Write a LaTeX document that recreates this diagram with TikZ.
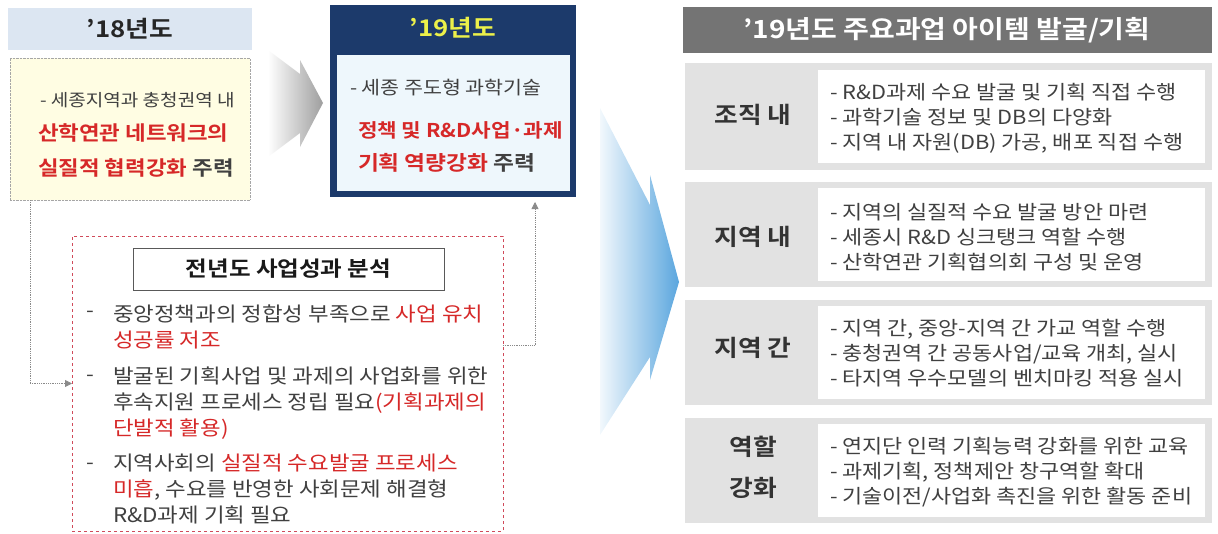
\documentclass[tikz,border=0pt]{standalone}
\usepackage{fontspec}
\setmainfont{Noto Sans CJK KR}[BoldFont={Noto Sans CJK KR Bold},FakeStretch=1.12]
\usetikzlibrary{arrows.meta,calc,fit}
\definecolor{hdrA}{HTML}{DCE6F2}
\definecolor{yelfill}{HTML}{FFFDE3}
\definecolor{navy}{HTML}{1C3A6B}
\definecolor{ytxt}{HTML}{ECF04A}
\definecolor{lblue}{HTML}{EEF7FC}
\definecolor{kred}{HTML}{D62828}
\definecolor{dgray}{HTML}{404040}
\definecolor{rhdr}{HTML}{747474}
\definecolor{rbox}{HTML}{E2E2E2}
\definecolor{dotc}{HTML}{8A8A8A}
\definecolor{rdash}{HTML}{D04A5A}
\definecolor{bluetip}{HTML}{5AA6DE}
\newcommand\setfs[2]{\fontsize{#1}{#2}\selectfont}
\begin{document}
\begin{tikzpicture}[x=1pt,y=-1pt,
  every node/.style={inner sep=0pt,outer sep=0pt},
  rect/.style={fit={#1},inner sep=0pt},
  conn/.style={draw=dotc,densely dotted,line width=0.8pt,-{Triangle[length=7pt,width=7pt]}},
  graytxt/.style={text=dgray,font=\setfs{17}{22}},
  redbig/.style={text=kred,font=\bfseries\setfs{20}{26}},
  bodytxt/.style={text=dgray,font=\setfs{20}{26},align=left,anchor=west},
  rtxt/.style={text=dgray,font=\setfs{19.5}{25},align=left,anchor=west},
  rlabel/.style={text=black!80,font=\bfseries\setfs{23}{26}}]
\useasboundingbox (0,0) rectangle (1218,533);

% ---- '18 ----
\node[rect={(8,8) (252,50)},fill=hdrA] (h18) {};
\node[font=\bfseries\setfs{23}{26},text=black!85] (h18t) at (h18.center) {’18년도};
\node[rect={(10,58) (250,200)},fill=yelfill,draw=black!35,densely dotted] (b18) {};
\node[graytxt,anchor=west] (t18a) at (40,100) {- 세종지역과 충청권역 내};
\node[redbig,anchor=west] (t18b) at (38,133) {산학연관 네트워크의};
\node[redbig,anchor=west] (t18c) at (38,168) {실질적 협력강화 \textcolor{dgray}{주력}};

% ---- gray arrow ----
\shade[left color=white,right color=black!38]
  (268,50) -- (300,74) -- (300,60) -- (323,103) -- (300,147) -- (300,133) -- (268,157) -- cycle;

% ---- '19 ----
\node[rect={(330,5) (576,197)},fill=navy] (b19) {};
\node[rect={(337,55) (570,191)},fill=lblue] (b19in) {};
\node[font=\bfseries\setfs{23}{26},text=ytxt] (h19t) at (453,28) {’19년도};
\node[text=dgray,font=\setfs{18.4}{24},anchor=west] (t19a) at (350,88) {- 세종 주도형 과학기술};
\node[text=kred,font=\bfseries\setfs{19}{26},anchor=west] (t19b) at (358,130) {정책 및 R\&D사업·과제};
\node[text=kred,font=\bfseries\setfs{20.3}{26},anchor=west] (t19c) at (358,163) {기획 역량강화 \textcolor{dgray}{주력}};

% ---- red dashed box ----
\node[rect={(72,236) (503,531)},fill=white,draw=rdash,dashed,line width=0.8pt] (redbox) {};
\node[rect={(133,248) (444,290)},fill=white,draw=black!65,line width=0.8pt] (ttl) {};
\node[font=\bfseries\setfs{21}{26},text=black!90] (ttlt) at (ttl.center) {전년도 사업성과 분석};
\node[text=dgray,font=\setfs{20}{26}] (d1) at (90,314) {-};
\node[text=dgray,font=\setfs{20}{26}] (d2) at (90,378) {-};
\node[text=dgray,font=\setfs{20}{26}] (d3) at (90,466) {-};
\node[bodytxt] (p1) at (113,326.5) {중앙정책과의 정합성 부족으로 \textcolor{kred}{사업 유치}\\\textcolor{kred}{성공률 저조}};
\node[bodytxt] (p2) at (113,403) {발굴된 기획사업 및 과제의 사업화를 위한\\후속지원 프로세스 정립 필요\textcolor{kred}{(기획과제의}\\\textcolor{kred}{단발적 활용)}};
\node[bodytxt] (p3) at (113,489.5) {지역사회의 \textcolor{kred}{실질적 수요발굴 프로세스}\\\textcolor{kred}{미흡}, 수요를 반영한 사회문제 해결형\\R\&D과제 기획 필요};

% ---- connectors ----
\draw[conn] ([xshift=20pt]b18.south west) |- (redbox.west);
\draw[conn,shorten >=5pt] ([yshift=38pt]redbox.east) -| ([xshift=82pt]b19.south);

% ---- blue arrow ----
\shade[left color=bluetip!8,right color=bluetip]
  (600,108) -- (650,205) -- (650,175) -- (679,282) -- (650,380) -- (650,357) -- (600,435) -- cycle;

% ---- right side ----
\node[rect={(683,7) (1212,53)},fill=rhdr] (rh) {};
\node[font=\bfseries\setfs{25}{28},text=white] (rht) at (947,30) {’19년도 주요과업 아이템 발굴/기획};

\node[rect={(685,63) (1212,170)},fill=rbox] (r1) {};
\node[rect={(818,70) (1205,163)},fill=white] (r1in) {};
\node[rlabel] (l1) at (753,115) {조직 내};
\node[rtxt] (x1) at (830,118) {- R\&D과제 수요 발굴 및 기획 직접 수행\\- 과학기술 정보 및 DB의 다양화\\- 지역 내 자원(DB) 가공, 배포 직접 수행};

\node[rect={(685,182) (1212,287)},fill=rbox] (r2) {};
\node[rect={(818,188) (1205,281)},fill=white] (r2in) {};
\node[rlabel] (l2) at (753,237) {지역 내};
\node[rtxt] (x2) at (830,237) {- 지역의 실질적 수요 발굴 방안 마련\\- 세종시 R\&D 싱크탱크 역할 수행\\- 산학연관 기획협의회 구성 및 운영};

\node[rect={(685,300) (1212,405)},fill=rbox] (r3) {};
\node[rect={(818,306) (1205,399)},fill=white] (r3in) {};
\node[rlabel] (l3) at (753,348) {지역 간};
\node[rtxt] (x3) at (830,353) {- 지역 간, 중앙-지역 간 가교 역할 수행\\- 충청권역 간 공동사업/교육 개최, 실시\\- 타지역 우수모델의 벤치마킹 적용 실시};

\node[rect={(685,418) (1212,523)},fill=rbox] (r4) {};
\node[rect={(818,424) (1205,517)},fill=white] (r4in) {};
\node[rlabel] (l4a) at (753,447) {역할};
\node[rlabel] (l4b) at (753,488) {강화};
\node[rtxt] (x4) at (830,472) {- 연지단 인력 기획능력 강화를 위한 교육\\- 과제기획, 정책제안 창구역할 확대\\- 기술이전/사업화 촉진을 위한 활동 준비};
\end{tikzpicture}
\end{document}
